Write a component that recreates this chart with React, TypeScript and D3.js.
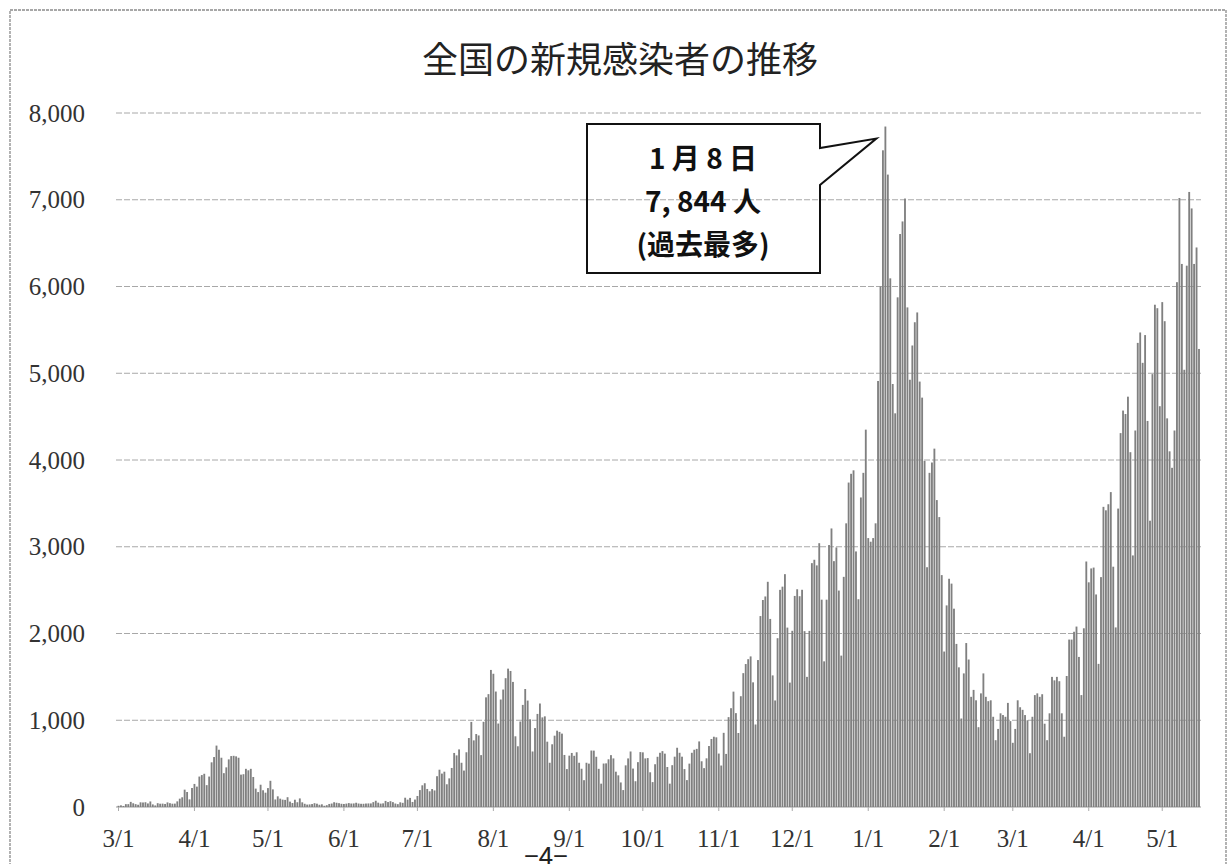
import React from 'react';
import * as d3 from 'd3';

// Daily new cases (Japan), 2020-03-01 .. 2021-05-16, one array per month
const mar2020 = [14, 19, 12, 33, 33, 59, 43, 33, 26, 54, 52, 55, 41, 64, 30, 18, 44, 38, 39, 35, 53, 44, 38, 39, 65, 96, 112, 200, 173, 88, 219];
const apr2020 = [266, 235, 351, 368, 383, 252, 351, 515, 576, 708, 660, 568, 390, 457, 549, 587, 590, 584, 568, 373, 378, 440, 423, 440, 346, 212, 172, 257, 193, 165];
const may2020 = [218, 302, 203, 87, 123, 96, 85, 82, 113, 62, 46, 84, 55, 99, 54, 37, 28, 30, 34, 44, 38, 26, 31, 14, 21, 35, 40, 55, 49, 44, 37];
const jun2020 = [35, 39, 45, 40, 41, 49, 40, 37, 37, 40, 41, 41, 56, 72, 50, 39, 42, 70, 57, 67, 56, 40, 33, 54, 48, 107, 85, 105, 58, 86];
const jul2020 = [127, 195, 250, 274, 208, 181, 207, 191, 355, 430, 385, 407, 262, 330, 450, 623, 595, 664, 510, 420, 631, 795, 981, 768, 841, 825, 598, 982, 1264, 1301, 1580];
const aug2020 = [1536, 1331, 962, 1239, 1354, 1485, 1595, 1568, 1442, 815, 700, 985, 1177, 1360, 1227, 1011, 640, 910, 1073, 1193, 1033, 1045, 753, 510, 723, 822, 880, 866, 846, 600, 437];
const sep2020 = [592, 623, 590, 631, 510, 441, 309, 510, 500, 651, 650, 579, 440, 269, 501, 503, 550, 598, 560, 407, 365, 283, 195, 480, 560, 640, 443, 297, 517, 633];
const oct2020 = [630, 560, 564, 400, 287, 493, 579, 625, 644, 615, 461, 269, 482, 580, 683, 625, 580, 437, 310, 500, 625, 660, 670, 756, 527, 448, 561, 703, 784, 810, 803];
const nov2020 = [616, 478, 855, 612, 1036, 1139, 1330, 1082, 853, 1277, 1543, 1648, 1704, 1736, 1437, 951, 1694, 2201, 2386, 2427, 2596, 2168, 1517, 1228, 1946, 2503, 2540, 2684, 2068, 1434];
const dec2020 = [2031, 2433, 2510, 2430, 2504, 2027, 1500, 2030, 2811, 2850, 2785, 3041, 2390, 1679, 2390, 3020, 3211, 2834, 2992, 2495, 1745, 2653, 3270, 3740, 3841, 3881, 2946, 2395, 3568, 3852, 4350];
const jan2021 = [3100, 3058, 3100, 3270, 4911, 6001, 7570, 7844, 7290, 6094, 4876, 4538, 5875, 6605, 6750, 7014, 5759, 4925, 5320, 5588, 5701, 4904, 4719, 3990, 2764, 3852, 3971, 4131, 3538, 3342, 2673];
const feb2021 = [1792, 2324, 2631, 2575, 2286, 1880, 1610, 1020, 1540, 1890, 1700, 1270, 1350, 1230, 920, 1310, 1540, 1270, 1220, 1230, 1040, 770, 900, 1080, 1060, 1040, 1200, 990];
const mar2021 = [740, 900, 1230, 1150, 1120, 1060, 1000, 620, 1040, 1290, 1310, 1270, 1300, 960, 770, 1080, 1500, 1460, 1500, 1450, 1080, 810, 1510, 1930, 1930, 2020, 2080, 1730, 1290, 2060, 2830];
const apr2021 = [2590, 2750, 2760, 2450, 1650, 2650, 3460, 3420, 3490, 3630, 2770, 2070, 3440, 4310, 4570, 4530, 4730, 4090, 2900, 4340, 5350, 5470, 5120, 5440, 4450, 3300, 4990, 5790, 5750, 4620];
const may2021 = [5820, 5600, 4480, 4100, 3910, 4340, 6050, 7020, 6260, 5040, 6240, 7090, 6900, 6260, 6450, 5280];

const months = [mar2020, apr2020, may2020, jun2020, jul2020, aug2020, sep2020, oct2020, nov2020, dec2020, jan2021, feb2021, mar2021, apr2021, may2021];
const monthLabels = ['3/1', '4/1', '5/1', '6/1', '7/1', '8/1', '9/1', '10/1', '11/1', '12/1', '1/1', '2/1', '3/1', '4/1', '5/1'];
const yTicks = [0, 1000, 2000, 3000, 4000, 5000, 6000, 7000, 8000];

const title = '全国の新規感染者の推移';
const calloutLines = ['1 月 8 日', '7, 844 人', '(過去最多)'];

const daily: number[] = months.flat();
const monthStarts: number[] = [];
{
  let acc = 0;
  months.forEach((m) => {
    monthStarts.push(acc);
    acc += m.length;
  });
}

export default function App() {
  const W = 1229;
  const H = 864;
  const x = d3.scaleLinear().domain([0, daily.length - 1]).range([118.5, 1199]);
  const y = d3.scaleLinear().domain([0, 8000]).range([807, 113]);
  const barW = 1.85;
  const fmt = d3.format(',');
  const peakIdx = d3.maxIndex(daily);
  const tipX = x(peakIdx) - 9;
  const tipY = y(daily[peakIdx]) + 12;
  const serif = '"Liberation Serif", "DejaVu Serif", serif';
  const cjk = '"Noto Sans CJK JP", "Noto Sans", sans-serif';

  return (
    <svg
      width={W}
      height={H}
      viewBox={`0 0 ${W} ${H}`}
      style={{ position: 'absolute', left: 0, top: 0, background: '#fff' }}
    >
      <rect x={0} y={0} width={W} height={H} fill="#fff" />
      {/* outer frame */}
      <rect x={10} y={10} width={1216} height={900} fill="none" stroke="#8a8a8a" strokeWidth={1.3} strokeDasharray="3,1" />

      {/* title */}
      <text x={620} y={57} textAnchor="middle" dominantBaseline="central" fontFamily={cjk} fontSize={36} fill="#222">
        {title}
      </text>

      {/* gridlines */}
      {yTicks.map((t) => (
        <line
          key={'g' + t}
          x1={116}
          x2={1201}
          y1={y(t)}
          y2={y(t)}
          stroke={t === 0 ? '#9a9a9a' : '#a8a8a8'}
          strokeWidth={1}
          strokeDasharray={t === 0 ? undefined : '6,2'}
        />
      ))}

      {/* y labels */}
      {yTicks.map((t) => (
        <text
          key={'yl' + t}
          x={85}
          y={y(t)}
          textAnchor="end"
          dominantBaseline="central"
          fontFamily={serif}
          fontSize={25}
          fill="#333"
        >
          {fmt(t)}
        </text>
      ))}

      {/* bars */}
      <g>
        {daily.map((v, i) => (
          <rect
            key={'b' + i}
            x={x(i) - barW / 2}
            y={y(v)}
            width={barW}
            height={y(0) - y(v)}
            fill="#808080"
          />
        ))}
      </g>

      {/* x ticks and labels */}
      {monthStarts.map((d, i) => (
        <g key={'xl' + i}>
          <line x1={x(d)} x2={x(d)} y1={y(0)} y2={y(0) + 4} stroke="#aaa" strokeWidth={1} />
          <text
            x={x(d)}
            y={838}
            textAnchor="middle"
            dominantBaseline="central"
            fontFamily={serif}
            fontSize={25}
            fill="#333"
          >
            {monthLabels[i]}
          </text>
        </g>
      ))}

      {/* callout */}
      <path
        d={`M587,124 H820 V148 L${tipX},${tipY} L820,185 V273 H587 Z`}
        fill="none"
        stroke="#111"
        strokeWidth={2}
      />
      {calloutLines.map((s, i) => (
        <text
          key={'c' + i}
          x={703}
          y={157 + i * 43}
          textAnchor="middle"
          dominantBaseline="central"
          fontFamily={cjk}
          fontWeight={700}
          fontSize={28}
          fill="#111"
        >
          {s}
        </text>
      ))}

      {/* page number */}
      <text x={546} y={866} textAnchor="middle" fontFamily={cjk} fontSize={26} fill="#222">
        −4−
      </text>
    </svg>
  );
}
